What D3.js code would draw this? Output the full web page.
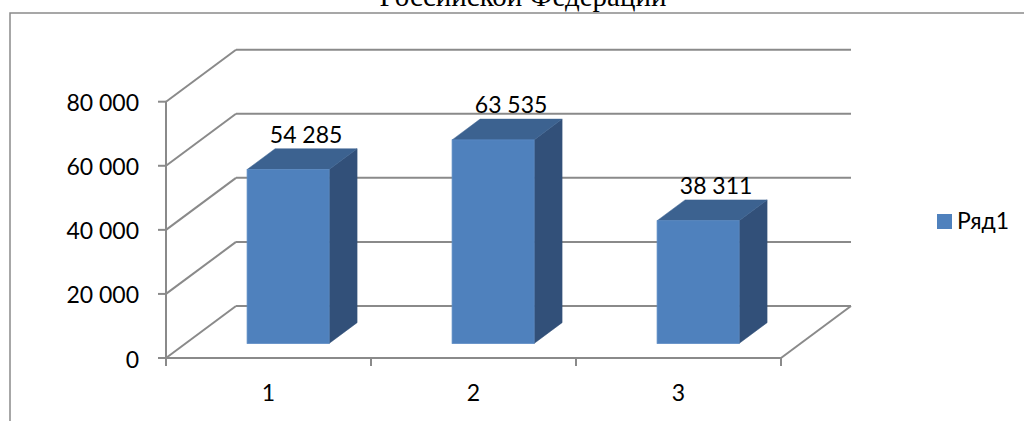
<!DOCTYPE html>
<html>
<head>
<meta charset="utf-8">
<script src="https://cdn.jsdelivr.net/npm/d3@7"></script>
<style>
    html, body { margin: 0; padding: 0; background: #fff; }
    #chart { display: block; }
</style>
</head>
<body>
<svg id="chart" width="1024" height="421"></svg>
<script>
// chart data
var chartTitle = 'Российской Федерации';
var categories = ['1', '2', '3'];
var values = [54285, 63535, 38311];
var yTicks = [0, 20000, 40000, 60000, 80000];
var seriesName = 'Ряд1';

d3.select(window).on('load', init);

function init() {
    var svg = d3.select('#chart');

    var depthX = 70, depthY = 52;      // 3d offset of the back wall
    var barFront = 0.28, barBack = 0.68; // bar depth inside the floor
    var grid = '#8a8a8a';
    var font = 'Lato, "Open Sans", sans-serif';
    var fontSize = '23px';

    var x = d3.scaleBand().domain(categories).range([166, 781])
        .paddingInner(0.6).paddingOuter(0.3);
    var cat = d3.scaleBand().domain(categories).range([166, 781]);
    var y = d3.scaleLinear().domain([0, 80000]).range([358, 101.7]);

    var fmt = d3.formatLocale({decimal: ',', thousands: ' ', grouping: [3], currency: ['', '']}).format(',');

    // outer frame + clipped title
    svg.append('rect')
        .attr('x', 10).attr('y', 13)
        .attr('width', 1030).attr('height', 430)
        .attr('fill', 'none').attr('stroke', grid).attr('stroke-width', 1.5);

    svg.append('text')
        .attr('x', 523).attr('y', 6)
        .attr('text-anchor', 'middle')
        .style('font-family', '"Liberation Serif", "Times New Roman", serif')
        .style('font-size', '29px')
        .text(chartTitle);

    var g = svg.append('g');

    // back wall gridlines
    g.selectAll('.back')
        .data(yTicks)
        .enter().append('line')
        .attr('x1', 166 + depthX).attr('x2', 781 + depthX)
        .attr('y1', function(d) { return y(d) - depthY; })
        .attr('y2', function(d) { return y(d) - depthY; })
        .attr('stroke', grid).attr('stroke-width', 2);

    // side wall gridlines
    g.selectAll('.side')
        .data(yTicks)
        .enter().append('line')
        .attr('x1', 166).attr('x2', 166 + depthX)
        .attr('y1', function(d) { return y(d); })
        .attr('y2', function(d) { return y(d) - depthY; })
        .attr('stroke', grid).attr('stroke-width', 2);

    // floor right edge
    g.append('line')
        .attr('x1', 781).attr('y1', y(0))
        .attr('x2', 781 + depthX).attr('y2', y(0) - depthY)
        .attr('stroke', grid).attr('stroke-width', 2);

    // value axis
    g.append('line')
        .attr('x1', 166).attr('x2', 166)
        .attr('y1', y(0)).attr('y2', y(80000))
        .attr('stroke', grid).attr('stroke-width', 2);
    g.selectAll('.ytick')
        .data(yTicks)
        .enter().append('line')
        .attr('x1', 158).attr('x2', 166)
        .attr('y1', function(d) { return y(d); })
        .attr('y2', function(d) { return y(d); })
        .attr('stroke', grid).attr('stroke-width', 2);
    g.selectAll('.ylabel')
        .data(yTicks)
        .enter().append('text')
        .attr('x', 139)
        .attr('y', function(d) { return y(d) + 9.5; })
        .attr('text-anchor', 'end')
        .style('font-family', font).style('font-size', fontSize).attr('fill', '#000')
        .text(function(d) { return fmt(d); });

    // category axis
    g.append('line')
        .attr('x1', 166).attr('x2', 781)
        .attr('y1', y(0)).attr('y2', y(0))
        .attr('stroke', grid).attr('stroke-width', 2);
    var bounds = categories.map(function(c) { return cat(c); }).concat([781]);
    g.selectAll('.xtick')
        .data(bounds)
        .enter().append('line')
        .attr('x1', function(d) { return d; }).attr('x2', function(d) { return d; })
        .attr('y1', y(0)).attr('y2', y(0) + 8)
        .attr('stroke', grid).attr('stroke-width', 2);
    g.selectAll('.xlabel')
        .data(categories)
        .enter().append('text')
        .attr('x', function(d) { return cat(d) + cat.bandwidth() / 2; })
        .attr('y', y(0) + 43)
        .attr('text-anchor', 'middle')
        .style('font-family', font).style('font-size', fontSize)
        .text(function(d) { return d; });

    // bars
    var bars = g.selectAll('.bar')
        .data(values)
        .enter().append('g')
        .attr('class', 'bar');

    function pt(px, py, d) { return [px + d * depthX, py - d * depthY]; }

    bars.append('polygon') // side face
        .attr('points', function(d, i) {
            var r = x(categories[i]) + x.bandwidth();
            return [pt(r, y(d), barFront), pt(r, y(d), barBack),
                    pt(r, y(0), barBack), pt(r, y(0), barFront)].join(' ');
        })
        .attr('fill', '#325079').attr('stroke', '#325079').attr('stroke-width', 0.5);

    bars.append('polygon') // top face
        .attr('points', function(d, i) {
            var l = x(categories[i]), r = l + x.bandwidth();
            return [pt(l, y(d), barFront), pt(r, y(d), barFront),
                    pt(r, y(d), barBack), pt(l, y(d), barBack)].join(' ');
        })
        .attr('fill', '#3c6290').attr('stroke', '#3c6290').attr('stroke-width', 0.5);

    bars.append('rect') // front face
        .attr('x', function(d, i) { return x(categories[i]) + barFront * depthX; })
        .attr('y', function(d) { return y(d) - barFront * depthY; })
        .attr('width', x.bandwidth())
        .attr('height', function(d) { return y(0) - y(d); })
        .attr('fill', '#4f81bd').attr('stroke', '#5b8bc4').attr('stroke-width', 0.8);

    // data labels
    var mid = (barFront + barBack) / 2;
    bars.append('text')
        .attr('x', function(d, i) { return x(categories[i]) + x.bandwidth() / 2 + mid * depthX + 4; })
        .attr('y', function(d) { return y(d) - barBack * depthY - 6; })
        .attr('text-anchor', 'middle')
        .style('font-family', font).style('font-size', fontSize)
        .text(function(d) { return fmt(d); });

    // legend
    var lg = svg.append('g').attr('transform', 'translate(937,214)');
    lg.append('rect').attr('width', 15).attr('height', 15).attr('fill', '#4f81bd');
    lg.append('text')
        .attr('x', 20).attr('y', 15)
        .style('font-family', font).style('font-size', fontSize)
        .text(seriesName);
}
</script>
</body>
</html>
